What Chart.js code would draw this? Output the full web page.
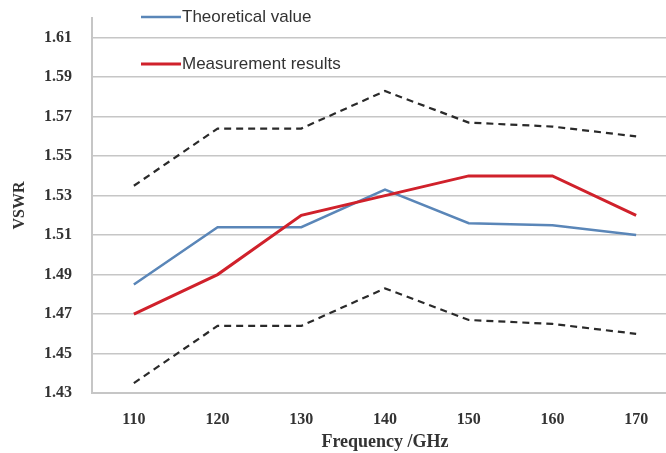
<!DOCTYPE html>
<html>
<head>
<meta charset="utf-8">
<script src="https://cdn.jsdelivr.net/npm/chart.js@4"></script>
<style>
  html, body { margin: 0; padding: 0; background: #fff; overflow: hidden; }
  #wrap { width: 700px; height: 453px; }
</style>
</head>
<body>
<div id="wrap"><canvas id="vswrChart"></canvas></div>
<script>
// VSWR vs frequency chart

// Data
const categories = ['110', '120', '130', '140', '150', '160', '170'];
const theoretical = [1.485, 1.514, 1.514, 1.533, 1.516, 1.515, 1.510];
const measured = [1.470, 1.490, 1.520, 1.530, 1.540, 1.540, 1.520];
const upperLimit = [1.535, 1.564, 1.564, 1.583, 1.567, 1.565, 1.560];
const lowerLimit = [1.435, 1.464, 1.464, 1.483, 1.467, 1.465, 1.460];
const yTicks = [1.43, 1.45, 1.47, 1.49, 1.51, 1.53, 1.55, 1.57, 1.59, 1.61];

const colors = {
    blue: '#5a86b8',
    red: '#d0212b',
    dash: '#2a2a2a',
    grid: '#c6c6c6',
    text: '#333333'
};

const serif = '"Liberation Serif", "DejaVu Serif", serif';

// Legend drawn inside the plot area, stacked like the original
const insideLegend = {
    id: 'insideLegend',
    afterDraw(chart) {
        const ctx = chart.ctx;
        const entries = chart.data.datasets
            .filter(d => d.legendRank !== undefined)
            .sort((a, b) => a.legendRank - b.legendRank);
        ctx.save();
        ctx.font = '17px "Liberation Sans", Arial, sans-serif';
        ctx.textBaseline = 'middle';
        entries.forEach((ds, i) => {
            const y = 17 + i * 47;
            ctx.strokeStyle = ds.borderColor;
            ctx.lineWidth = ds.borderWidth;
            ctx.beginPath();
            ctx.moveTo(141, y);
            ctx.lineTo(181, y);
            ctx.stroke();
            ctx.fillStyle = colors.text;
            ctx.fillText(ds.label, 182, y);
        });
        ctx.restore();
    }
};

new Chart(document.getElementById('vswrChart'), {
    type: 'line',
    data: {
        labels: categories,
        datasets: [
            {
                label: 'Measurement results',
                data: measured,
                borderColor: colors.red,
                borderWidth: 3,
                legendRank: 1,
                order: 1
            },
            {
                label: 'Theoretical value',
                data: theoretical,
                borderColor: colors.blue,
                borderWidth: 2.5,
                legendRank: 0,
                order: 2
            },
            {
                label: 'Upper limit',
                data: upperLimit,
                borderColor: colors.dash,
                borderWidth: 2.2,
                borderDash: [7, 5],
                order: 3
            },
            {
                label: 'Lower limit',
                data: lowerLimit,
                borderColor: colors.dash,
                borderWidth: 2.2,
                borderDash: [7, 5],
                order: 3
            }
        ].map(ds => Object.assign({ pointRadius: 0, tension: 0, fill: false }, ds))
    },
    options: {
        responsive: true,
        maintainAspectRatio: false,
        animation: false,
        layout: { padding: { top: 18, right: 22, left: 0, bottom: 0 } },
        plugins: {
            legend: { display: false },
            tooltip: { enabled: false }
        },
        scales: {
            x: {
                offset: true,
                grid: { display: false, drawTicks: false },
                border: { display: true, color: colors.grid, width: 2 },
                ticks: {
                    padding: 17,
                    color: colors.text,
                    font: { family: serif, size: 16, weight: 'bold' }
                },
                title: {
                    display: true,
                    text: 'Frequency /GHz',
                    color: colors.text,
                    padding: 0,
                    font: { family: serif, size: 18, weight: 'bold' }
                },
                afterFit: scale => {
                    scale.height = 60;
                    scale.paddingLeft = 0;
                    scale.paddingRight = 0;
                }
            },
            y: {
                min: 1.43,
                max: 1.62,
                afterBuildTicks: scale => {
                    scale.ticks = yTicks.map(v => ({ value: v }));
                },
                grid: { color: colors.grid, lineWidth: 1.6, drawTicks: false },
                border: { display: true, color: colors.grid, width: 2 },
                ticks: {
                    padding: 20,
                    color: colors.text,
                    font: { family: serif, size: 16, weight: 'bold' },
                    callback: value => value.toFixed(2)
                },
                title: {
                    display: true,
                    text: 'VSWR',
                    color: colors.text,
                    padding: { top: 10, bottom: 0 },
                    font: { family: serif, size: 16, weight: 'bold' }
                },
                afterFit: scale => {
                    scale.width = 92;
                    scale.paddingTop = 0;
                    scale.paddingBottom = 0;
                }
            }
        }
    },
    plugins: [insideLegend]
});
</script>
</body>
</html>
